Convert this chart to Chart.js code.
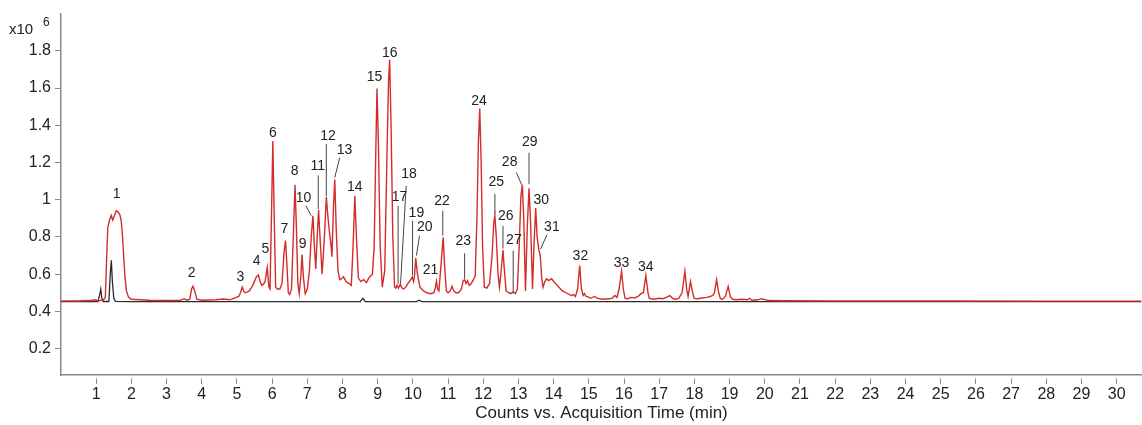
<!DOCTYPE html>
<html>
<head>
<meta charset="utf-8">
<script src="https://cdn.jsdelivr.net/npm/chart.js@4"></script>
<style>
  body { margin: 0; background: #ffffff; }
  #wrap { width: 1142px; height: 425px; position: relative; }
</style>
</head>
<body>
<div id="wrap"><canvas id="cromatograma"></canvas></div>
<script>
// Tick labels
const xTicks = [1, 2, 3, 4, 5, 6, 7, 8, 9, 10, 11, 12, 13, 14, 15, 16, 17, 18, 19, 20, 21, 22, 23, 24, 25, 26, 27, 28, 29, 30];
const yTicks = [0.2, 0.4, 0.6, 0.8, 1.0, 1.2, 1.4, 1.6, 1.8];

// Red trace (sample): time (min) and counts (x10^6)
const redTime = [
  0.00, 0.50, 0.85, 0.95, 1.05, 1.20, 1.26, 1.30, 1.33, 1.38, 1.43, 1.47, 1.51, 1.57, 1.62, 1.67, 1.71, 1.75, 1.78, 1.82,
  1.86, 1.92, 2.00, 2.50, 3.00, 3.40, 3.50, 3.58, 3.66, 3.71, 3.75, 3.80, 3.86, 4.00, 4.40, 4.60, 4.80, 4.98, 5.05, 5.10,
  5.15, 5.20, 5.25, 5.35, 5.45, 5.55, 5.61, 5.66, 5.70, 5.75, 5.80, 5.86, 5.91, 5.94, 5.98, 6.02, 6.06, 6.10, 6.15, 6.22,
  6.28, 6.34, 6.38, 6.42, 6.46, 6.50, 6.55, 6.61, 6.65, 6.69, 6.73, 6.77, 6.82, 6.85, 6.89, 6.94, 7.00, 7.06, 7.11, 7.16,
  7.20, 7.24, 7.28, 7.32, 7.36, 7.42, 7.48, 7.54, 7.58, 7.62, 7.66, 7.70, 7.74, 7.78, 7.82, 7.87, 7.92, 7.97, 8.03, 8.10,
  8.18, 8.25, 8.30, 8.35, 8.40, 8.45, 8.52, 8.60, 8.68, 8.75, 8.80, 8.85, 8.90, 8.94, 8.98, 9.02, 9.07, 9.13, 9.20, 9.27,
  9.31, 9.34, 9.38, 9.43, 9.48, 9.52, 9.55, 9.59, 9.64, 9.69, 9.74, 9.80, 9.86, 9.92, 9.98, 10.02, 10.05, 10.08, 10.13, 10.20,
  10.30, 10.40, 10.50, 10.60, 10.64, 10.67, 10.70, 10.74, 10.80, 10.86, 10.90, 10.95, 11.00, 11.06, 11.11, 11.16, 11.22, 11.30, 11.38, 11.43,
  11.47, 11.51, 11.55, 11.60, 11.66, 11.72, 11.77, 11.82, 11.86, 11.90, 11.94, 11.98, 12.03, 12.10, 12.18, 12.25, 12.30, 12.33, 12.37, 12.42,
  12.46, 12.50, 12.56, 12.60, 12.65, 12.72, 12.78, 12.85, 12.91, 12.97, 13.03, 13.07, 13.11, 13.15, 13.20, 13.25, 13.30, 13.34, 13.40, 13.44,
  13.49, 13.53, 13.58, 13.62, 13.66, 13.70, 13.75, 13.80, 13.86, 13.94, 14.05, 14.15, 14.25, 14.35, 14.45, 14.51, 14.56, 14.62, 14.68, 14.74,
  14.79, 14.84, 14.88, 14.92, 14.98, 15.05, 15.16, 15.25, 15.40, 15.55, 15.66, 15.74, 15.80, 15.86, 15.93, 15.98, 16.03, 16.10, 16.20, 16.30,
  16.40, 16.48, 16.55, 16.62, 16.68, 16.72, 16.85, 17.00, 17.10, 17.20, 17.30, 17.38, 17.45, 17.55, 17.65, 17.73, 17.78, 17.82, 17.89, 17.94,
  17.99, 18.10, 18.20, 18.35, 18.45, 18.52, 18.57, 18.63, 18.69, 18.74, 18.80, 18.88, 18.96, 19.02, 19.08, 19.20, 19.35, 19.50, 19.57, 19.63,
  19.80, 19.90, 20.00, 20.10, 20.50, 22.00, 25.00, 28.00, 30.70
];
const redCounts = [
  0.455, 0.456, 0.458, 0.462, 0.457, 0.460, 0.475, 0.700, 0.850, 0.890, 0.915, 0.890, 0.910, 0.940, 0.935, 0.920, 0.890, 0.800, 0.700, 0.580,
  0.510, 0.475, 0.465, 0.460, 0.458, 0.460, 0.468, 0.460, 0.465, 0.520, 0.535, 0.510, 0.465, 0.460, 0.462, 0.466, 0.462, 0.475, 0.480, 0.500,
  0.530, 0.505, 0.500, 0.510, 0.540, 0.585, 0.595, 0.560, 0.540, 0.545, 0.560, 0.635, 0.530, 0.520, 0.900, 1.315, 0.900, 0.530, 0.520, 0.520,
  0.550, 0.720, 0.780, 0.650, 0.500, 0.490, 0.520, 0.850, 1.080, 0.850, 0.550, 0.495, 0.600, 0.705, 0.580, 0.495, 0.520, 0.620, 0.800, 0.914,
  0.750, 0.628, 0.800, 0.944, 0.800, 0.600, 0.780, 1.015, 0.920, 0.840, 0.780, 0.694, 0.950, 1.108, 0.850, 0.620, 0.570, 0.575, 0.585, 0.560,
  0.550, 0.540, 0.750, 1.021, 0.780, 0.580, 0.560, 0.570, 0.555, 0.580, 0.590, 0.600, 0.750, 1.200, 1.597, 1.300, 0.750, 0.530, 0.620, 1.300,
  1.650, 1.752, 1.400, 0.800, 0.530, 0.525, 0.540, 0.525, 0.545, 0.525, 0.520, 0.530, 0.550, 0.565, 0.584, 0.560, 0.600, 0.687, 0.600, 0.530,
  0.510, 0.500, 0.495, 0.500, 0.530, 0.562, 0.520, 0.510, 0.650, 0.798, 0.650, 0.510, 0.500, 0.510, 0.535, 0.510, 0.500, 0.500, 0.520, 0.565,
  0.570, 0.550, 0.565, 0.540, 0.550, 0.570, 0.590, 0.900, 1.300, 1.490, 1.200, 0.750, 0.530, 0.525, 0.550, 0.700, 0.880, 0.914, 0.800, 0.600,
  0.530, 0.600, 0.730, 0.620, 0.510, 0.500, 0.495, 0.505, 0.495, 0.520, 0.800, 1.020, 1.080, 0.900, 0.510, 0.850, 1.062, 0.900, 0.520, 0.750,
  0.955, 0.800, 0.730, 0.700, 0.580, 0.530, 0.560, 0.575, 0.565, 0.575, 0.550, 0.530, 0.510, 0.500, 0.490, 0.485, 0.490, 0.480, 0.520, 0.646,
  0.520, 0.485, 0.495, 0.480, 0.478, 0.470, 0.480, 0.470, 0.465, 0.468, 0.470, 0.485, 0.475, 0.520, 0.616, 0.520, 0.470, 0.468, 0.475, 0.472,
  0.480, 0.495, 0.500, 0.593, 0.500, 0.470, 0.465, 0.470, 0.468, 0.475, 0.485, 0.470, 0.465, 0.468, 0.500, 0.616, 0.520, 0.480, 0.560, 0.510,
  0.470, 0.468, 0.472, 0.475, 0.480, 0.485, 0.500, 0.570, 0.500, 0.468, 0.465, 0.480, 0.534, 0.480, 0.465, 0.462, 0.465, 0.462, 0.470, 0.460,
  0.462, 0.468, 0.463, 0.458, 0.457, 0.456, 0.456, 0.455, 0.455
];

// Black trace (blank)
const blackTime = [0.00, 0.90, 1.05, 1.10, 1.13, 1.16, 1.20, 1.36, 1.40, 1.43, 1.46, 1.50, 1.55, 2.00, 5.00, 8.50, 8.58, 8.65, 10.10, 10.18, 10.25, 20.00, 30.70];
const blackCounts = [0.453, 0.453, 0.452, 0.490, 0.520, 0.470, 0.453, 0.453, 0.600, 0.675, 0.560, 0.470, 0.454, 0.452, 0.452, 0.452, 0.470, 0.452, 0.452, 0.460, 0.452, 0.452, 0.452];

// Peak numbers: text, time, counts where the number sits
const peakLabels = [
  ["1", 1.58, 1.03], ["2", 3.71, 0.605], ["3", 5.10, 0.585], ["4", 5.56, 0.67], ["5", 5.81, 0.735],
  ["6", 6.02, 1.36], ["7", 6.35, 0.84], ["8", 6.64, 1.155], ["9", 6.87, 0.76], ["10", 6.89, 1.01],
  ["11", 7.30, 1.18], ["12", 7.59, 1.34], ["13", 8.06, 1.265], ["14", 8.35, 1.07], ["15", 8.91, 1.66],
  ["16", 9.34, 1.787], ["17", 9.62, 1.016], ["18", 9.89, 1.14], ["19", 10.10, 0.926], ["20", 10.34, 0.85],
  ["21", 10.50, 0.62], ["22", 10.83, 0.99], ["23", 11.43, 0.776], ["24", 11.88, 1.53], ["25", 12.37, 1.097],
  ["26", 12.64, 0.914], ["27", 12.87, 0.78], ["28", 12.75, 1.203], ["29", 13.32, 1.31], ["30", 13.65, 0.998],
  ["31", 13.95, 0.855], ["32", 14.76, 0.695], ["33", 15.93, 0.66], ["34", 16.62, 0.64]
];

// Leader lines: from (time, counts) to (time, counts)
const leaderLines = [
  [6.96, 0.967, 7.11, 0.914], [7.31, 1.13, 7.31, 0.95], [7.54, 1.30, 7.54, 1.02], [7.92, 1.226, 7.78, 1.119],
  [9.58, 0.967, 9.58, 0.548], [9.81, 1.075, 9.65, 0.548], [9.99, 0.887, 9.99, 0.593], [10.19, 0.807, 10.10, 0.70],
  [10.85, 0.941, 10.85, 0.807], [11.47, 0.712, 11.47, 0.575], [12.33, 1.031, 12.33, 0.924], [12.56, 0.86, 12.56, 0.737],
  [12.85, 0.726, 12.85, 0.496], [12.94, 1.147, 13.09, 1.08], [13.30, 1.252, 13.30, 1.083], [13.81, 0.812, 13.63, 0.735]
];

function toPoints(xs, ys) {
  return xs.map(function (x, i) { return { x: x, y: ys[i] }; });
}

const fuente = "'Liberation Sans', Arial, Helvetica, sans-serif";

// Plugin for peak numbers, leader lines and the x10^6 factor
const etiquetasPlugin = {
  id: "etiquetas",
  afterDatasetsDraw(chart) {
    const ctx = chart.ctx;
    const xs = chart.scales.x;
    const ys = chart.scales.y;
    ctx.save();
    ctx.strokeStyle = "#444444";
    ctx.lineWidth = 1;
    leaderLines.forEach(function (l) {
      ctx.beginPath();
      ctx.moveTo(xs.getPixelForValue(l[0]), ys.getPixelForValue(l[1]));
      ctx.lineTo(xs.getPixelForValue(l[2]), ys.getPixelForValue(l[3]));
      ctx.stroke();
    });
    ctx.fillStyle = "#222222";
    ctx.font = "14px " + fuente;
    ctx.textAlign = "center";
    ctx.textBaseline = "middle";
    peakLabels.forEach(function (p) {
      ctx.fillText(p[0], xs.getPixelForValue(p[1]), ys.getPixelForValue(p[2]));
    });
    // multiplier
    ctx.textAlign = "left";
    ctx.font = "15px " + fuente;
    ctx.fillText("x10", 9, 30);
    ctx.font = "12px " + fuente;
    ctx.fillText("6", 43, 23);
    ctx.restore();
  },
};

const ctx = document.getElementById("cromatograma").getContext("2d");
const chart = new Chart(ctx, {
  type: "line",
  data: {
    datasets: [
      {
        label: "Blank",
        data: toPoints(blackTime, blackCounts),
        borderColor: "#2b2b2b",
        borderWidth: 1.3,
        pointRadius: 0,
        tension: 0,
        order: 2,
      },
      {
        label: "Sample",
        data: toPoints(redTime, redCounts),
        borderColor: "#d42b2b",
        borderWidth: 1.4,
        pointRadius: 0,
        tension: 0,
        order: 1,
      },
    ],
  },
  options: {
    responsive: true,
    maintainAspectRatio: false,
    animation: false,
    layout: { padding: { top: 13, right: 0, left: 0, bottom: 0 } },
    plugins: {
      legend: { display: false },
      tooltip: { enabled: false },
    },
    scales: {
      x: {
        type: "linear",
        min: 0,
        max: 30.72,
        afterBuildTicks(scale) {
          scale.ticks = xTicks.map(function (v) { return { value: v }; });
        },
        afterFit(scale) {
          scale.height = 50;
        },
        ticks: {
          color: "#222222",
          font: { family: fuente, size: 16 },
          padding: 1,
          maxRotation: 0,
          autoSkip: false,
        },
        grid: {
          drawOnChartArea: false,
          tickLength: 9,
          tickColor: "#8a8a8a",
          tickBorderDash: [0, 3, 6, 0],
        },
        border: { color: "#8a8a8a", width: 1.5 },
        title: {
          display: true,
          text: "Counts vs. Acquisition Time (min)",
          color: "#222222",
          font: { family: fuente, size: 17 },
          padding: { top: 0, bottom: 1 },
        },
      },
      y: {
        type: "linear",
        min: 0.058,
        max: 2.0,
        afterBuildTicks(scale) {
          scale.ticks = yTicks.map(function (v) { return { value: v }; });
        },
        afterFit(scale) {
          scale.width = 61;
        },
        ticks: {
          color: "#222222",
          font: { family: fuente, size: 16 },
          padding: 4,
          callback: function (v) {
            return v === 1 ? "1" : v.toFixed(1);
          },
        },
        grid: {
          drawOnChartArea: false,
          tickLength: 6,
          tickColor: "#8a8a8a",
        },
        border: { color: "#8a8a8a", width: 1.5 },
      },
    },
  },
  plugins: [etiquetasPlugin],
});
</script>
</body>
</html>
